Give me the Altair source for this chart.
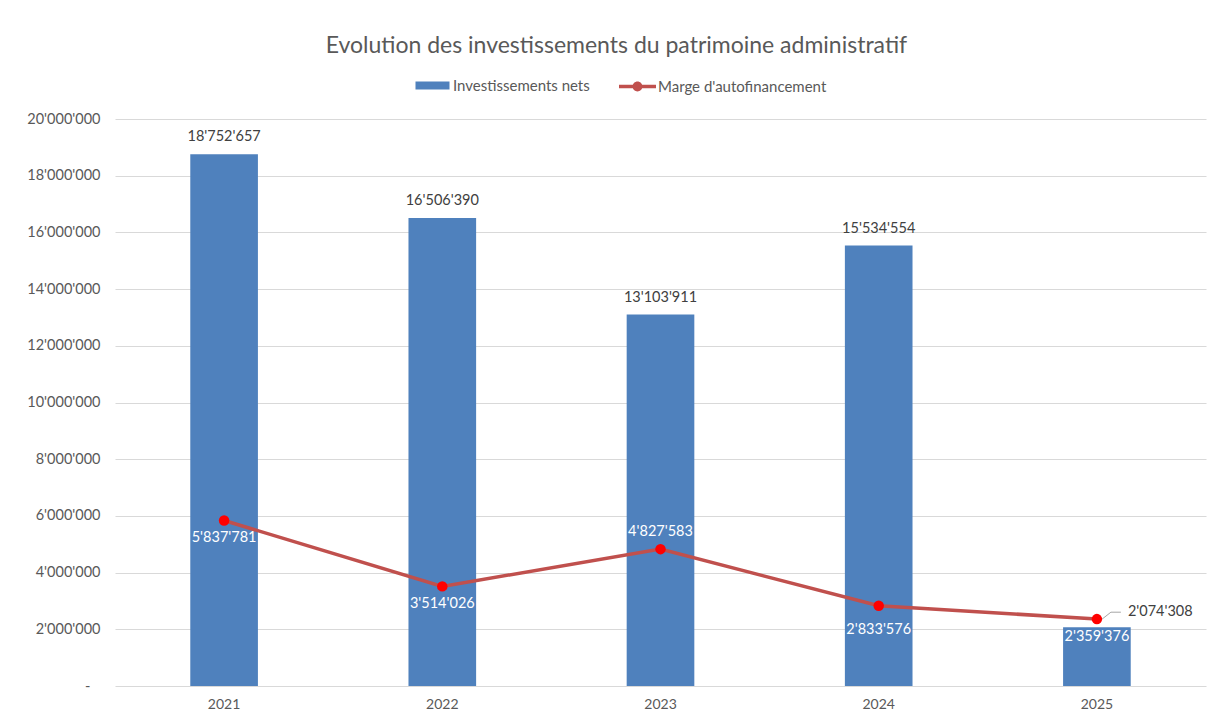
import altair as alt
import pandas as pd

years = ["2021", "2022", "2023", "2024", "2025"]
invest = [18752657, 16506390, 13103911, 15534554, 2074308]
marge = [5837781, 3514026, 4827583, 2833576, 2359376]
y_ticks = [0, 2000000, 4000000, 6000000, 8000000, 10000000,
           12000000, 14000000, 16000000, 18000000, 20000000]

SERIE_BAR = "Investissements nets"
SERIE_LINE = "Marge d'autofinancement"


def fmt(v):
    return f"{v:,}".replace(",", "'")


df = pd.DataFrame({"annee": years, "invest": invest, "marge": marge})
df["invest_lbl"] = [fmt(v) for v in invest]
df["marge_lbl"] = [fmt(v) for v in marge]
df["serie_bar"] = SERIE_BAR
df["serie_line"] = SERIE_LINE

FONT = "Lato"
GRAY = "#595959"
LBL = 14.5

x = alt.X(
    "annee:N", title=None,
    scale=alt.Scale(paddingInner=0.69, paddingOuter=0.345),
    axis=alt.Axis(labelAngle=0, labelColor=GRAY, labelFontSize=14, labelFont=FONT,
                  labelPadding=11, ticks=False, domain=False, grid=False),
)
yscale = alt.Scale(domain=[0, 20000000], nice=False, zero=True)
yaxis = alt.Axis(
    values=y_ticks, title=None, ticks=False, domain=False,
    labelPadding={"condition": {"test": "datum.value === 0", "value": 25}, "value": 15},
    labelColor=GRAY, labelFontSize=14.5, labelFont=FONT,
    gridColor="#D9D9D9", gridWidth=1,
    labelExpr="datum.value == 0 ? '-' : replace(format(datum.value, ','), regexp(',', 'g'), \"'\")",
)

base = alt.Chart(df)

bars = base.mark_bar().encode(
    x=x,
    y=alt.Y("invest:Q", scale=yscale, axis=yaxis),
    fill=alt.Fill(
        "serie_bar:N",
        scale=alt.Scale(domain=[SERIE_BAR], range=["#4F81BD"]),
        legend=alt.Legend(
            orient="none", legendX=306, legendY=-45, title=None, padding=0,
            symbolType="M-1.5,-0.35H1.5V0.35H-1.5Z", symbolSize=514,
            symbolStrokeWidth=0, labelOffset=9, labelFont=FONT, labelFontSize=15,
            labelColor=GRAY, labelLimit=400,
        ),
    ),
)

bar_lbl = base.mark_text(font=FONT, fontSize=LBL, color="#404040", dy=-17).encode(
    x=x, y=alt.Y("invest:Q", scale=yscale, axis=yaxis), text="invest_lbl:N"
).transform_filter("datum.annee != '2025'")

bar_lbl_side = base.mark_text(font=FONT, fontSize=LBL, color="#404040", align="left",
                              dx=31, dy=-15).encode(
    x=x, y=alt.Y("invest:Q", scale=yscale, axis=yaxis), text="invest_lbl:N"
).transform_filter("datum.annee == '2025'")

leader1 = base.mark_rule(color="#A6A6A6", strokeWidth=1, yOffset=-4, x2Offset=14, y2Offset=-15).encode(
    x=x, y=alt.Y("invest:Q", scale=yscale, axis=yaxis),
    x2=alt.X2("annee:N"), y2=alt.Y2("invest:Q"),
).transform_filter("datum.annee == '2025'")

leader2 = base.mark_rule(color="#A6A6A6", strokeWidth=1, xOffset=14, yOffset=-15, x2Offset=24, y2Offset=-15).encode(
    x=x, y=alt.Y("invest:Q", scale=yscale, axis=yaxis),
    x2=alt.X2("annee:N"), y2=alt.Y2("invest:Q"),
).transform_filter("datum.annee == '2025'")

line = base.mark_line(strokeWidth=3.5).encode(
    x=x,
    y=alt.Y("marge:Q", scale=yscale, axis=yaxis),
    stroke=alt.Stroke(
        "serie_line:N",
        scale=alt.Scale(domain=[SERIE_LINE], range=["#C0504D"]),
        legend=alt.Legend(
            orient="none", legendX=510, legendY=-45, title=None, padding=0,
            symbolType="M-1.5,-0.14H1.5V0.14H-1.5Z M-0.4,0A0.4,0.4 0 1,1 0.4,0A0.4,0.4 0 1,1 -0.4,0Z",
            symbolSize=608, symbolFillColor="#C0504D", symbolStrokeWidth=0,
            labelOffset=8, labelFont=FONT, labelFontSize=15, labelColor=GRAY,
            labelLimit=400,
        ),
    ),
)

points = base.mark_circle(size=110, color="#FF0000", opacity=1).encode(
    x=x, y=alt.Y("marge:Q", scale=yscale, axis=yaxis)
)

line_lbl_below = base.mark_text(font=FONT, fontSize=LBL, color="white", dy=18).encode(
    x=x, y=alt.Y("marge:Q", scale=yscale, axis=yaxis), text="marge_lbl:N"
).transform_filter("datum.annee != '2023' && datum.annee != '2024'")

line_lbl_below2 = base.mark_text(font=FONT, fontSize=LBL, color="white", dy=24).encode(
    x=x, y=alt.Y("marge:Q", scale=yscale, axis=yaxis), text="marge_lbl:N"
).transform_filter("datum.annee == '2024'")

line_lbl_above = base.mark_text(font=FONT, fontSize=LBL, color="white", dy=-17).encode(
    x=x, y=alt.Y("marge:Q", scale=yscale, axis=yaxis), text="marge_lbl:N"
).transform_filter("datum.annee == '2023'")

chart = alt.layer(
    bars, bar_lbl, bar_lbl_side, leader1, leader2, line, points,
    line_lbl_below, line_lbl_below2, line_lbl_above,
).resolve_legend(fill="independent", stroke="independent").properties(
    width=1091, height=567,
    padding={"left": 107, "top": 111, "right": 1, "bottom": 27},
    autosize=alt.AutoSizeParams(type="none"),
    background="white",
    title=alt.TitleParams(
        "Evolution des investissements du patrimoine administratif",
        font=FONT, fontSize=23, fontWeight="normal", color=GRAY,
        anchor="middle", frame="bounds", offset=16,
    ),
).configure_view(strokeWidth=0)

chart.save("out.html", embed_options={"renderer": "svg", "actions": False})
